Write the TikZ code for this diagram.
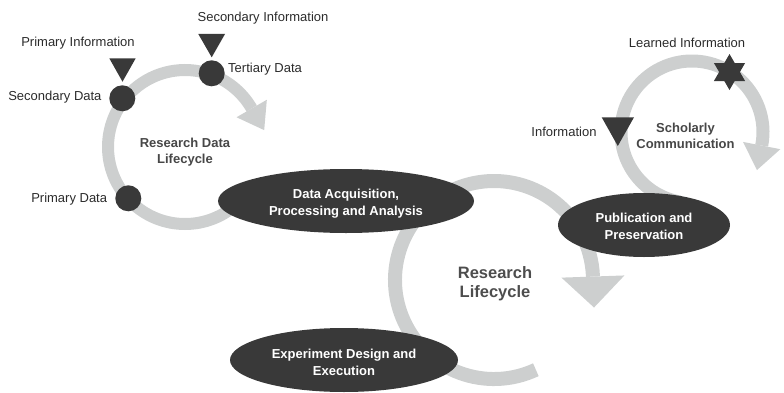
\documentclass[tikz,border=0pt]{standalone}
\usepackage{fontspec}
\setmainfont{Liberation Sans}
\usetikzlibrary{calc,shapes.geometric}
\definecolor{darkfill}{HTML}{393939}
\definecolor{ringgray}{HTML}{CDCFCF}
\definecolor{labelc}{HTML}{2B2B2B}
\definecolor{titlec}{HTML}{474747}
\begin{document}
\begin{tikzpicture}[x=1pt,y=1pt,
  ringline/.style={draw=ringgray, line cap=butt},
  ringhead/.style={fill=ringgray},
  stage/.style={ellipse, fill=darkfill, inner sep=0pt},
  stagetext/.style={text=white, inner sep=0pt,
    font=\bfseries\fontsize{13}{17.2}\selectfont, align=center},
  dot/.style={circle, fill=darkfill, minimum size=26pt, inner sep=0pt},
  lbl/.style={text=labelc, font=\fontsize{13}{16}\selectfont, inner sep=0pt},
  title/.style={text=titlec, font=\bfseries\fontsize{13}{15.8}\selectfont, align=center, inner sep=0pt},
  marker/.style={fill=darkfill}]
\useasboundingbox (0,0) rectangle (784,392);
\coordinate (Lc) at (185,245);
\coordinate (Bc) at (494,112);
\coordinate (Rc) at (692,260);
\coordinate (S) at (729.5,320);

% rings
\draw[ringline, line width=12pt] ($(Lc)+(315:77)$) arc[start angle=315, end angle=30, radius=77];
\fill[ringhead] ($(Lc)+(30:94.5)$) -- ($(Lc)+(30:59.5)$) -- ($(Lc)+(30:77)+(-60:25)$) -- cycle;

\draw[ringline, line width=14pt] ($(Bc)+(295:99)$) arc[start angle=295, end angle=2, radius=99];
\fill[ringhead] ($(Bc)+(2:130.5)$) -- ($(Bc)+(2:67.5)$) -- ($(Bc)+(2:99)+(-88:31)$) -- cycle;

\draw[ringline, line width=13pt] ($(Rc)+(260:71)$) arc[start angle=260, end angle=-11, radius=71];
\fill[ringhead] ($(Rc)+(-11:90)$) -- ($(Rc)+(-11:52)$) -- ($(Rc)+(-11:71)+(-101:25)$) -- cycle;

% stages
\node[stage, minimum width=256pt, minimum height=64pt] (acq) at (346,191) {};
\node[stagetext] (acqtext) at ($(acq.center)+(0,-2.5)$) {Data Acquisition,\\Processing and Analysis};
\node[stage, minimum width=172pt, minimum height=64pt] (pub) at (644,167) {};
\node[stagetext] (pubtext) at ($(pub.center)+(0,-1)$) {Publication and\\Preservation};
\node[stage, minimum width=228pt, minimum height=64pt] (exp) at (344,32) {};
\node[stagetext] (exptext) at ($(exp.center)+(0,-2.5)$) {Experiment Design and\\Execution};

% dots
\node[dot] (d2) at (122.3,293.7) {};
\node[dot] (d3) at (211.7,318.7) {};
\node[dot] (d1) at (128.3,193.7) {};

% markers
\fill[marker] (109.3,333.7) -- (135.7,333.7) -- (122.5,310.3) -- cycle;
\fill[marker] (198.3,358) -- (225,358) -- (211.7,334.7) -- cycle;
\fill[marker] (601.7,274.7) -- (634,274.7) -- (617.8,246) -- cycle;
\fill[marker] ($(S)+(90:18)$) -- ($(S)+(210:18)$) -- ($(S)+(330:18)$) -- cycle
              ($(S)+(270:18)$) -- ($(S)+(30:18)$) -- ($(S)+(150:18)$) -- cycle;

% labels
\node[lbl] (pinfo) at (78,348.7) {Primary Information};
\node[lbl] (sinfo) at (263,373.7) {Secondary Information};
\node[lbl, anchor=west] (tdata) at (228,322.7) {Tertiary Data};
\node[lbl, anchor=east] (sdata) at (101.7,295.3) {Secondary Data};
\node[lbl, anchor=east] (pdata) at (107.3,193) {Primary Data};
\node[lbl] (linfo) at (687,349.3) {Learned Information};
\node[lbl, anchor=east] (info) at (596.7,260.3) {Information};

\node[title] (rdl) at (185,240) {Research Data\\Lifecycle};
\node[title] (sc) at (685.5,256.5) {Scholarly\\Communication};
\node[title, font=\bfseries\fontsize{16.5}{19}\selectfont, text=darkfill!90] (rl) at (495,108.5) {Research\\Lifecycle};
\end{tikzpicture}
\end{document}
